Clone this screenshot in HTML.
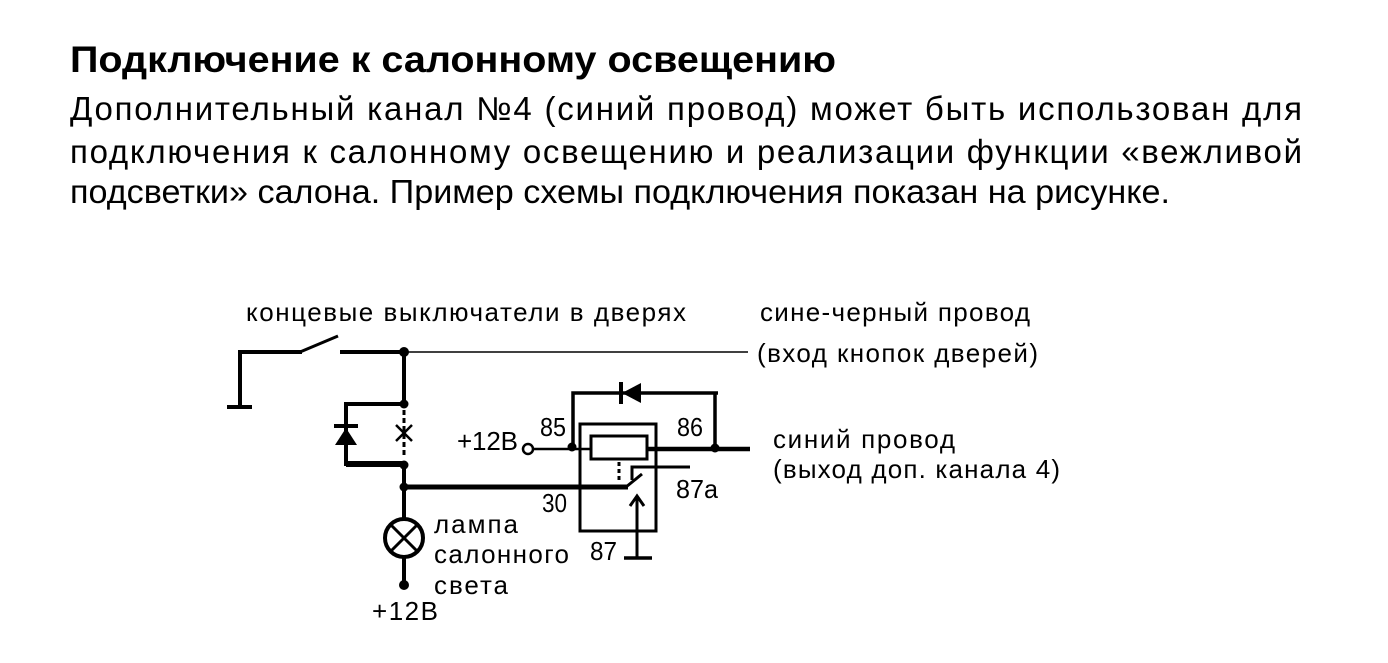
<!DOCTYPE html>
<html><head><meta charset="utf-8"><style>
html,body{margin:0;padding:0;background:#fff;width:1388px;height:663px;overflow:hidden}
svg{display:block}
text{font-family:"Liberation Sans",sans-serif;fill:#000}
</style></head><body>
<svg width="1388" height="663" viewBox="0 0 1388 663">
<text x="70" y="72" font-size="37" font-weight="bold" textLength="766" lengthAdjust="spacingAndGlyphs">Подключение  к  салонному  освещению</text>
<text x="70" y="120" font-size="33" textLength="1232" lengthAdjust="spacing">Дополнительный  канал  №4  (синий  провод)  может  быть  использован  для</text>
<text x="70" y="163" font-size="33" textLength="1232" lengthAdjust="spacing">подключения  к  салонному  освещению  и  реализации  функции  «вежливой</text>
<text x="70" y="203" font-size="33" textLength="1100" lengthAdjust="spacingAndGlyphs">подсветки» салона. Пример схемы подключения показан на рисунке.</text>

<g font-size="26">
<text x="246" y="321" textLength="440" lengthAdjust="spacing">концевые выключатели в дверях</text>
<text x="760" y="321" textLength="270" lengthAdjust="spacing">сине-черный провод</text>
<text x="757" y="362" textLength="281" lengthAdjust="spacing">(вход кнопок дверей)</text>
<text x="457" y="450" textLength="61" lengthAdjust="spacing">+12В</text>
<text x="773" y="448" textLength="182" lengthAdjust="spacing">синий провод</text>
<text x="773" y="478" textLength="287" lengthAdjust="spacing">(выход доп. канала 4)</text>
<text x="434" y="533" textLength="84" lengthAdjust="spacing">лампа</text>
<text x="434" y="563" textLength="135" lengthAdjust="spacing">салонного</text>
<text x="434" y="594" textLength="74" lengthAdjust="spacing">света</text>
<text x="372" y="620" textLength="66" lengthAdjust="spacing">+12В</text>
<text x="540" y="436" textLength="26" lengthAdjust="spacingAndGlyphs">85</text>
<text x="677" y="436" textLength="26" lengthAdjust="spacingAndGlyphs">86</text>
<text x="542" y="512" textLength="25" lengthAdjust="spacingAndGlyphs">30</text>
<text x="676" y="498" textLength="42" lengthAdjust="spacingAndGlyphs">87а</text>
<text x="590" y="560" textLength="27" lengthAdjust="spacingAndGlyphs">87</text>
</g>

<g stroke="#000" fill="none" stroke-linecap="butt">
<polyline points="240,408 240,352 302,352" stroke-width="4"/>
<line x1="227" y1="407" x2="252" y2="407" stroke-width="4"/>
<line x1="300" y1="352" x2="338" y2="336" stroke-width="3"/>
<line x1="340" y1="352" x2="404" y2="352" stroke-width="4"/>
<line x1="404" y1="352" x2="748" y2="352" stroke-width="1.5"/>
<line x1="404" y1="352" x2="404" y2="404" stroke-width="4"/>
<polyline points="404,404 346,404 346,464 404,464" stroke-width="4"/>
<line x1="346" y1="464" x2="404" y2="464" stroke-width="6"/>
<line x1="404" y1="410" x2="404" y2="456" stroke-width="3" stroke-dasharray="5,3"/>
<line x1="396" y1="425" x2="412" y2="441" stroke-width="2.5"/>
<line x1="412" y1="425" x2="396" y2="441" stroke-width="2.5"/>
<line x1="404" y1="464" x2="404" y2="518" stroke-width="4"/>
<line x1="404" y1="487" x2="628" y2="487" stroke-width="5"/>
<line x1="626" y1="487" x2="642" y2="474" stroke-width="3"/>
<circle cx="404" cy="538" r="19" stroke-width="4"/>
<line x1="391" y1="525" x2="417" y2="551" stroke-width="3"/>
<line x1="417" y1="525" x2="391" y2="551" stroke-width="3"/>
<line x1="404" y1="557" x2="404" y2="585" stroke-width="4"/>
<rect x="580" y="424" width="76" height="107" stroke-width="3"/>
<rect x="591" y="436" width="56" height="23" stroke-width="3"/>
<line x1="534" y1="449" x2="591" y2="449" stroke-width="2.5"/>
<line x1="647" y1="449" x2="750" y2="449" stroke-width="4.5"/>
<polyline points="573,449 573,393 718,393" stroke-width="3.5"/>
<line x1="715" y1="393" x2="715" y2="449" stroke-width="3.5"/>
<line x1="619" y1="462" x2="619" y2="482" stroke-width="3" stroke-dasharray="4,3"/>
<polyline points="632,480 632,467 690,467" stroke-width="3"/>
<line x1="637" y1="498" x2="637" y2="558" stroke-width="3"/>
<polyline points="630,506 637,496 644,506" stroke-width="3"/>
<line x1="624" y1="558" x2="652" y2="558" stroke-width="3.5"/>
<circle cx="528" cy="449" r="5" stroke-width="2.5"/>
</g>
<g fill="#000">
<circle cx="404" cy="352" r="5"/>
<circle cx="404" cy="404" r="4.5"/>
<circle cx="404" cy="465" r="4.5"/>
<circle cx="404" cy="487" r="4.5"/>
<circle cx="404" cy="585" r="5"/>
<circle cx="572" cy="447" r="4.5"/>
<circle cx="715" cy="448" r="4.5"/>
<polygon points="346,428 335,445 357,445"/>
<rect x="334" y="424" width="24" height="4"/>
<polygon points="622,393 641,383 641,403"/>
<rect x="619" y="382" width="4" height="22"/>
</g>
</svg>
</body></html>
